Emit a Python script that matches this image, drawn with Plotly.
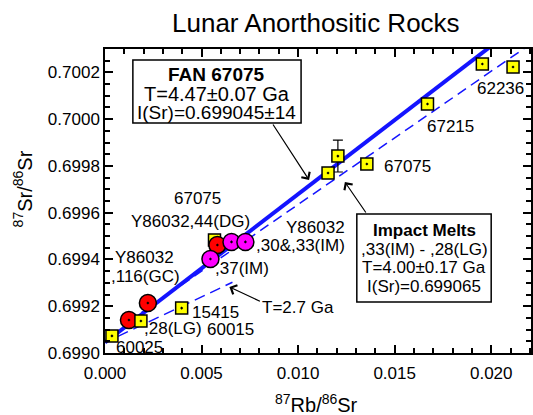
import plotly.graph_objects as go

# ---------------- data ----------------
sq_x = [0.00036, 0.00186, 0.00397, 0.00567, 0.01155, 0.01206, 0.01356, 0.01670, 0.01954, 0.02113]
sq_y = [0.699073, 0.699137, 0.699192, 0.699483, 0.699770, 0.699842, 0.699808, 0.700065, 0.700236, 0.700223]
sq_err = [0, 0, 0, 0, 0, 0.000068, 0, 0, 0, 0]

red_x = [0.00124, 0.00222, 0.00582]
red_y = [0.699141, 0.699214, 0.699462]

mag_x = [0.00546, 0.00655, 0.00727]
mag_y = [0.699402, 0.699475, 0.699475]

# isochron lines: initial ratio, slope, x-extent
fan_i0, fan_slope, fan_xs = 0.699045, 0.0634, [0.0, 0.0221]
im_i0, im_slope, im_xs = 0.699065, 0.0570, [0.0019, 0.0221]
ref_i0, ref_slope, ref_xs = 0.699045, 0.0390, [0.00067, 0.0066]

x_ticks = [0.000, 0.005, 0.010, 0.015, 0.020]
y_ticks = [0.6990, 0.6992, 0.6994, 0.6996, 0.6998, 0.7000, 0.7002]

title_text = "Lunar Anorthositic Rocks"
x_title = "<sup>87</sup>Rb/<sup>86</sup>Sr"
y_title = "<sup>87</sup>Sr/<sup>86</sup>Sr"

# ---------------- figure ----------------
FONT = "Liberation Sans, Arial, sans-serif"
BLUE = "#1414ff"
L, T, W, H = 105, 49, 428, 304


def pp(px, py):
    return (px - L) / W, (T + H - py) / H


def line_y(i0, s, xs):
    return [i0 + s * x for x in xs]


fig = go.Figure()

fig.add_trace(go.Scatter(x=fan_xs, y=line_y(fan_i0, fan_slope, fan_xs), mode="lines",
                         line=dict(color=BLUE, width=4), showlegend=False, hoverinfo="skip"))
fig.add_trace(go.Scatter(x=im_xs, y=line_y(im_i0, im_slope, im_xs), mode="lines",
                         line=dict(color=BLUE, width=1.5, dash="10px,6px"), showlegend=False, hoverinfo="skip"))
fig.add_trace(go.Scatter(x=ref_xs, y=line_y(ref_i0, ref_slope, ref_xs), mode="lines",
                         line=dict(color=BLUE, width=1.5, dash="11px,6px"), showlegend=False, hoverinfo="skip"))

sq_marker = dict(symbol="square-dot", size=12, color="#ffff00", line=dict(color="black", width=1.5))
back = [3]
front = [i for i in range(len(sq_x)) if i not in back]

fig.add_trace(go.Scatter(x=[sq_x[i] for i in back], y=[sq_y[i] for i in back], mode="markers",
                         marker=sq_marker, showlegend=False))
fig.add_trace(go.Scatter(x=red_x, y=red_y, mode="markers",
                         marker=dict(symbol="circle-dot", size=17, color="#ff0000",
                                     line=dict(color="black", width=1.5)), showlegend=False))
fig.add_trace(go.Scatter(x=mag_x, y=mag_y, mode="markers",
                         marker=dict(symbol="circle-dot", size=17, color="#ff00ff",
                                     line=dict(color="black", width=1.5)), showlegend=False))
fig.add_trace(go.Scatter(x=[sq_x[i] for i in front], y=[sq_y[i] for i in front], mode="markers",
                         marker=sq_marker,
                         error_y=dict(type="data", array=[sq_err[i] for i in front], color="black",
                                      thickness=1.2, width=5),
                         showlegend=False))

annotations = []


def txt(s, px, py, size=17, xanchor="center", bold=False):
    x, y = pp(px, py)
    annotations.append(dict(text=("<b>%s</b>" % s) if bold else s, x=x, y=y, xref="paper", yref="paper",
                            xanchor=xanchor, yanchor="middle", showarrow=False,
                            font=dict(family=FONT, size=size, color="black")))


def arrow(tx, ty, hx, hy):
    x, y = pp(hx, hy)
    annotations.append(dict(text="", x=x, y=y, xref="paper", yref="paper", showarrow=True,
                            ax=tx - hx, ay=ty - hy, axref="pixel", ayref="pixel",
                            arrowhead=4, arrowsize=1.6, arrowwidth=1.2, arrowcolor="black",
                            standoff=0, startstandoff=0))


# title & axis titles
txt(title_text, 317, 23, size=26)
txt(x_title, 317, 403, size=20)
yx, yy = pp(22, 189)
annotations.append(dict(text=y_title, x=yx, y=yy, xref="paper", yref="paper", textangle=-90,
                        showarrow=False, xanchor="center", yanchor="middle",
                        font=dict(family=FONT, size=20, color="black")))

# point labels
txt("60025", 140, 347)
txt(",28(LG)", 173, 328)
txt("60015", 231, 329)
txt("15415", 216, 312)
txt("T=2.7 Ga", 299, 307)
txt("Y86032", 145, 257)
txt(",116(GC)", 146, 276)
txt("67075", 198, 198)
txt("Y86032,44(DG)", 191, 221)
txt(",37(IM)", 243, 268)
txt("Y86032", 348, 227, xanchor="right")
txt(",30&,33(IM)", 348, 245, xanchor="right")
txt("67075", 409, 166)
txt("67215", 452, 127)
txt("62236", 502, 89)

# FAN box
txt("FAN 67075", 217.5, 74, size=19, bold=True)
txt("T=4.47±0.07 Ga", 217.5, 94, size=20)
txt("I(Sr)=0.699045±14", 217.5, 112, size=19)

# Impact melts box
txt("Impact Melts", 425.5, 230, size=17, bold=True)
txt(",33(IM) - ,28(LG)", 425.5, 249, size=17)
txt("T=4.00±0.17 Ga", 425.5, 267, size=17)
txt("I(Sr)=0.699065", 425.5, 286, size=17)

arrow(273, 123, 310, 180)
arrow(368, 214, 346, 182)
arrow(262, 302, 230, 287)

shapes = []
for (x0p, y0p, x1p, y1p) in [(133, 60, 302, 123), (358, 214, 493, 302)]:
    a0, b0 = pp(x0p, y0p)
    a1, b1 = pp(x1p, y1p)
    shapes.append(dict(type="rect", xref="paper", yref="paper", x0=a0, y0=b1, x1=a1, y1=b0,
                       line=dict(color="black", width=1.5), fillcolor="white", layer="below"))

axis_common = dict(showgrid=False, zeroline=False, showline=True, linecolor="black", linewidth=1.5,
                   mirror="allticks", ticks="inside", ticklen=8, tickwidth=1.5, tickcolor="black",
                   tickfont=dict(family=FONT, size=17, color="black"))

fig.update_layout(
    width=533, height=415,
    margin=dict(l=L, r=533 - L - W, t=T, b=415 - T - H),
    plot_bgcolor="white", paper_bgcolor="white",
    xaxis=dict(range=[0, 0.02206], tickvals=x_ticks, tickformat=".3f", ticklabelstandoff=4,
               minor=dict(dtick=0.001, tick0=0, ticks="inside", ticklen=5, tickwidth=1.5, tickcolor="black"),
               **axis_common),
    yaxis=dict(range=[0.6990, 0.7003], tickvals=y_ticks, tickformat=".4f",
               minor=dict(dtick=0.00005, tick0=0.699, ticks="inside", ticklen=5, tickwidth=1.5, tickcolor="black"),
               **axis_common),
    annotations=annotations,
    shapes=shapes,
    showlegend=False,
)

fig.write_html("out.html")
